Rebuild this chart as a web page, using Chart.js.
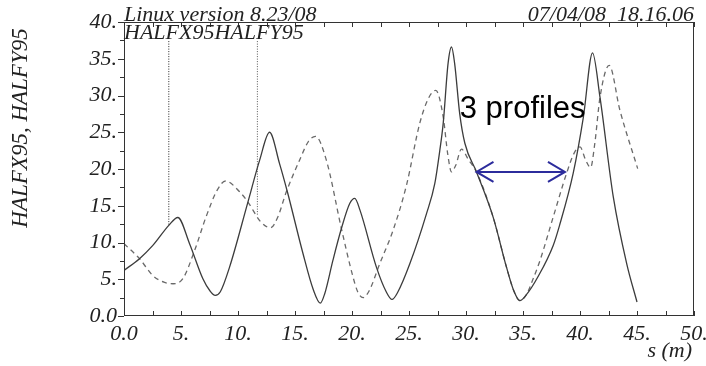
<!DOCTYPE html>
<html>
<head>
<meta charset="utf-8">
<script src="https://cdn.jsdelivr.net/npm/chart.js@4.4.1/dist/chart.umd.min.js"></script>
<style>
  html, body { margin: 0; padding: 0; background: #fff; }
  #wrap { width: 706px; height: 366px; position: relative; }
</style>
</head>
<body>
<div id="wrap"><canvas id="c" width="706" height="366"></canvas></div>
<script>
// ---- data ----
const sSolid = [0, 1.36, 2.53, 3.93, 4.72, 5.75, 6.92, 7.55, 8.0, 8.45, 9.26, 10.87, 11.9, 12.77, 13.65, 14.33, 15.7, 16.6, 17.22, 17.6, 18.33, 19.07, 19.8, 20.24, 20.7, 22.14, 23.0, 23.51, 24.0, 25.07, 26.53, 27.26, 27.7, 28.0, 28.43, 28.73, 29.0, 29.45, 29.9, 30.92, 32.38, 33.55, 34.2, 34.72, 35.3, 36.3, 37.65, 38.2, 39.4, 40.3, 41.1, 41.75, 42.92, 44.1, 45.0];
const halfx95 = [6.2, 7.8, 9.6, 12.33, 13.4, 9.84, 5.07, 3.4, 2.8, 3.3, 6.65, 15.5, 21.2, 25.0, 20.7, 16.9, 8.5, 3.6, 1.75, 3.0, 7.6, 11.9, 15.3, 16.0, 14.4, 6.65, 3.3, 2.25, 3.2, 7.1, 13.9, 18.0, 22.5, 26.2, 34.4, 36.6, 34.4, 27.5, 23.5, 19.6, 13.46, 6.65, 3.4, 2.1, 2.9, 5.3, 9.6, 12.3, 19.4, 27.1, 35.8, 29.8, 16.2, 7.1, 1.9];

const sDashed = [0, 1.36, 2.53, 3.5, 4.3, 5.16, 6.19, 7.2, 8.2, 8.91, 10.14, 10.87, 12.0, 12.86, 13.5, 14.24, 15.4, 16.2, 16.8, 17.75, 19.07, 20.09, 20.5, 20.97, 21.5, 22.43, 23.6, 24.78, 25.94, 26.7, 27.35, 28.0, 28.4, 28.73, 29.1, 29.6, 30.2, 30.92, 32.38, 33.55, 34.2, 34.72, 35.3, 35.9, 36.48, 37.65, 38.82, 39.5, 40.0, 40.5, 40.93, 41.3, 41.75, 42.56, 43.5, 45.06];
const halfy95 = [9.84, 7.8, 5.5, 4.6, 4.39, 5.07, 8.9, 13.5, 17.2, 18.37, 16.9, 15.5, 12.8, 12.0, 13.5, 16.9, 21.2, 23.8, 24.45, 21.2, 11.9, 5.3, 3.3, 2.5, 3.4, 7.1, 11.65, 17.8, 26.2, 29.6, 30.7, 27.1, 22.0, 19.6, 20.5, 22.7, 21.3, 19.6, 13.46, 6.65, 3.4, 2.1, 2.9, 5.1, 7.5, 13.46, 19.4, 22.2, 23.0, 21.2, 20.2, 23.5, 29.7, 34.1, 28.0, 20.05];

// marker lines (dotted verticals)
const markerS = [3.93, 11.7];
const markerTop = [37.4, 37.4];
const markerBottom = [12.33, 13.7];

// ticks
const xTickValues = [0, 5, 10, 15, 20, 25, 30, 35, 40, 45, 50];
const yTickValues = [0, 5, 10, 15, 20, 25, 30, 35, 40];

// annotation
const arrowS = [30.92, 38.68];
const arrowV = 19.6;
const noteText = '3 profiles';
const noteS = 29.45;
const noteV = 27.0;

const headerLeft = 'Linux version 8.23/08';
const headerRight = '07/04/08  18.16.06';
const subHeader = 'HALFX95HALFY95';
const yTitle = 'HALFX95, HALFY95';
const xTitle = 's (m)';

const serif = "italic 22px 'Liberation Serif', 'DejaVu Serif', serif";

function pts(xs, ys) { return xs.map((x, i) => ({ x: x, y: ys[i] })); }

const datasets = [
  { label: 'HALFX95', data: pts(sSolid, halfx95), borderColor: '#3c3c3c', borderWidth: 1.3, pointRadius: 0, cubicInterpolationMode: 'monotone', fill: false },
  { label: 'HALFY95', data: pts(sDashed, halfy95), borderColor: '#6a6a6a', borderWidth: 1.3, borderDash: [5, 4], pointRadius: 0, cubicInterpolationMode: 'monotone', fill: false }
];
markerS.forEach((s, i) => {
  datasets.push({ label: 'marker' + i, data: [{ x: s, y: markerTop[i] }, { x: s, y: markerBottom[i] }], borderColor: i === 0 ? '#222' : '#555', borderWidth: 1, borderDash: [1, 1.5], pointRadius: 0, tension: 0 });
});

const decor = {
  id: 'decor',
  afterDraw(chart) {
    const ctx = chart.ctx;
    const a = chart.chartArea;
    const xs = chart.scales.x, ys = chart.scales.y;
    ctx.save();
    // frame
    ctx.strokeStyle = '#333';
    ctx.lineWidth = 1;
    ctx.strokeRect(Math.round(a.left) + 0.5, Math.round(a.top) + 0.5, Math.round(a.right - a.left) - 1, Math.round(a.bottom - a.top) - 1);
    // ticks
    ctx.beginPath();
    for (let v = 0; v <= 50.001; v += 2.5) {
      const px = Math.round(xs.getPixelForValue(v)) + 0.5;
      ctx.moveTo(px, a.bottom); ctx.lineTo(px, a.bottom - 5);
      ctx.moveTo(px, a.top); ctx.lineTo(px, a.top + 5);
    }
    for (let v = 0; v <= 40.001; v += 2.5) {
      const py = Math.round(ys.getPixelForValue(v)) + 0.5;
      const len = (Math.abs(v % 5) < 0.01) ? 6 : 4;
      ctx.moveTo(a.left, py); ctx.lineTo(a.left - len, py);
    }
    ctx.stroke();

    // texts
    ctx.fillStyle = '#222';
    ctx.font = serif;
    ctx.textBaseline = 'alphabetic';
    ctx.textAlign = 'left';
    ctx.fillText(headerLeft, a.left, a.top - 1);
    ctx.fillText(subHeader, a.left, a.top + 17);
    ctx.textAlign = 'right';
    ctx.fillText(headerRight, a.right, a.top - 1);
    ctx.fillText(xTitle, a.right - 2, 357);
    ctx.save();
    ctx.translate(27, 128);
    ctx.rotate(-Math.PI / 2);
    ctx.textAlign = 'center';
    ctx.font = "italic 23px 'Liberation Serif', 'DejaVu Serif', serif";
    ctx.fillText(yTitle, 0, 0);
    ctx.restore();

    // note
    ctx.fillStyle = '#000';
    ctx.font = "31px 'Liberation Sans', Arial, sans-serif";
    ctx.textAlign = 'left';
    ctx.fillText(noteText, xs.getPixelForValue(noteS), ys.getPixelForValue(noteV));

    // double arrow
    const x1 = xs.getPixelForValue(arrowS[0]);
    const x2 = xs.getPixelForValue(arrowS[1]);
    const y = ys.getPixelForValue(arrowV);
    ctx.strokeStyle = '#2c2c9c';
    ctx.lineWidth = 2;
    ctx.beginPath();
    ctx.moveTo(x1, y); ctx.lineTo(x2, y);
    ctx.moveTo(x1 + 17, y - 10); ctx.lineTo(x1, y); ctx.lineTo(x1 + 17, y + 10);
    ctx.moveTo(x2 - 17, y - 10); ctx.lineTo(x2, y); ctx.lineTo(x2 - 17, y + 10);
    ctx.stroke();
    ctx.restore();
  }
};

new Chart(document.getElementById('c'), {
  type: 'line',
  data: { datasets: datasets },
  options: {
    responsive: false,
    animation: false,
    events: [],
    layout: { padding: { top: 22, right: 12, left: 0, bottom: 0 } },
    plugins: { legend: { display: false }, tooltip: { enabled: false } },
    scales: {
      x: {
        type: 'linear', min: 0, max: 50,
        grid: { display: false, drawTicks: false },
        border: { display: false },
        afterFit(scale) { scale.height = 50; scale.paddingLeft = 0; scale.paddingRight = 0; },
        afterBuildTicks(scale) { scale.ticks = xTickValues.map(v => ({ value: v })); },
        ticks: {
          autoSkip: false, maxRotation: 0, padding: 5, color: '#222',
          font: { family: "'Liberation Serif', 'DejaVu Serif', serif", style: 'italic', size: 22 },
          callback: v => (v === 0 ? '0.0' : v + '.')
        }
      },
      y: {
        type: 'linear', min: 0, max: 40,
        grid: { display: false, drawTicks: false },
        border: { display: false },
        afterFit(scale) { scale.width = 124; scale.paddingTop = 0; scale.paddingBottom = 0; },
        afterBuildTicks(scale) { scale.ticks = yTickValues.map(v => ({ value: v })); },
        ticks: {
          autoSkip: false, padding: 7, color: '#222',
          font: { family: "'Liberation Serif', 'DejaVu Serif', serif", style: 'italic', size: 22 },
          callback: v => (v === 0 ? '0.0' : v + '.')
        }
      }
    }
  },
  plugins: [decor]
});
</script>
</body>
</html>
